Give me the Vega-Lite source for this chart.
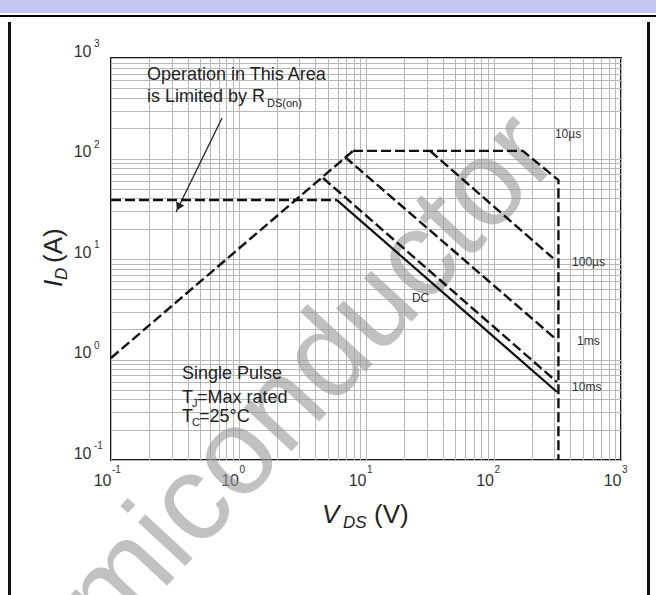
{
  "$schema": "https://vega.github.io/schema/vega-lite/v6.json",
  "padding": 0,
  "background": "white",
  "spacing": 0,
  "config": {"view": {"stroke": null}, "font": "Liberation Sans"},
  "datasets": {
    "curves": [
      {"s": "RDS", "o": 0, "v": 0.1, "i": 1.035},
      {"s": "RDS", "o": 1, "v": 7.91, "i": 119},
      {"s": "10µs", "o": 0, "v": 7.91, "i": 119},
      {"s": "10µs", "o": 1, "v": 170, "i": 119},
      {"s": "10µs", "o": 2, "v": 323, "i": 61},
      {"s": "10µs", "o": 3, "v": 323, "i": 0.1},
      {"s": "100µs", "o": 0, "v": 31.8, "i": 119},
      {"s": "100µs", "o": 1, "v": 293, "i": 10.2},
      {"s": "1ms", "o": 0, "v": 6.84, "i": 103.5},
      {"s": "1ms", "o": 1, "v": 315, "i": 1.56},
      {"s": "10ms", "o": 0, "v": 4.6, "i": 64},
      {"s": "10ms", "o": 1, "v": 315, "i": 0.597},
      {"s": "IDM", "o": 0, "v": 0.1, "i": 38.6},
      {"s": "IDM", "o": 1, "v": 5.92, "i": 38.6},
      {"s": "DC", "o": 0, "v": 5.92, "i": 38.6},
      {"s": "DC", "o": 1, "v": 315, "i": 0.475}
    ],
    "xexp": [
      {"v": 0.1, "i": 0.1, "t": "-1"},
      {"v": 1, "i": 0.1, "t": "0"},
      {"v": 10, "i": 0.1, "t": "1"},
      {"v": 100, "i": 0.1, "t": "2"},
      {"v": 1000, "i": 0.1, "t": "3"}
    ],
    "yexp": [
      {"v": 0.1, "i": 0.1, "t": "-1"},
      {"v": 0.1, "i": 1, "t": "0"},
      {"v": 0.1, "i": 10, "t": "1"},
      {"v": 0.1, "i": 100, "t": "2"},
      {"v": 0.1, "i": 1000, "t": "3"}
    ]
  },
  "vconcat": [
    {
      "width": 656, "height": 13,
      "view": {"fill": "#c7c6f2", "stroke": null},
      "data": {"values": [{}]},
      "mark": {"type": "point", "opacity": 0}
    },
    {
      "width": 656, "height": 2,
      "view": {"fill": "#000000", "stroke": null},
      "data": {"values": [{}]},
      "mark": {"type": "point", "opacity": 0}
    },
    {
      "spacing": 0,
      "hconcat": [
        {"width": 6, "height": 1, "view": {"fill": "white", "stroke": null}, "data": {"values": [{}]}, "mark": {"type": "point", "opacity": 0}},
        {"width": 3, "height": 580, "view": {"fill": "#111111", "stroke": null}, "data": {"values": [{}]}, "mark": {"type": "point", "opacity": 0}},
        {"width": 24, "height": 1, "view": {"fill": "white", "stroke": null}, "data": {"values": [{}]}, "mark": {"type": "point", "opacity": 0}},
        {
          "spacing": 0,
          "vconcat": [
            {"width": 1, "height": 16, "view": {"fill": "white", "stroke": null}, "data": {"values": [{}]}, "mark": {"type": "point", "opacity": 0}},
            {
              "width": 510, "height": 402,
              "view": {"stroke": "#1a1a1a", "strokeWidth": 2},
              "encoding": {
                "x": {
                  "field": "v", "type": "quantitative",
                  "scale": {"type": "log", "domain": [0.1, 1000], "nice": false},
                  "axis": {
                    "title": null,
                    "values": [0.1, 0.2, 0.3, 0.4, 0.5, 0.6, 0.7, 0.8, 0.9, 1, 2, 3, 4, 5, 6, 7, 8, 9, 10, 20, 30, 40, 50, 60, 70, 80, 90, 100, 200, 300, 400, 500, 600, 700, 800, 900, 1000],
                    "labelExpr": "datum.value === 0.1 || datum.value === 1 || datum.value === 10 || datum.value === 100 || datum.value === 1000 ? '10' : ''",
                    "grid": true, "gridColor": "#b8b8b8", "gridWidth": 1,
                    "ticks": false, "domain": false,
                    "labelFlush": false, "labelOverlap": false,
                    "labelFont": "Liberation Sans", "labelFontSize": 16, "labelColor": "#333333",
                    "labelAlign": "right", "labelDx": -1, "labelPadding": 12
                  }
                },
                "y": {
                  "field": "i", "type": "quantitative",
                  "scale": {"type": "log", "domain": [0.1, 1000], "nice": false},
                  "axis": {
                    "title": null,
                    "values": [0.1, 0.2, 0.3, 0.4, 0.5, 0.6, 0.7, 0.8, 0.9, 1, 2, 3, 4, 5, 6, 7, 8, 9, 10, 20, 30, 40, 50, 60, 70, 80, 90, 100, 200, 300, 400, 500, 600, 700, 800, 900, 1000],
                    "labelExpr": "datum.value === 0.1 || datum.value === 1 || datum.value === 10 || datum.value === 100 || datum.value === 1000 ? '10' : ''",
                    "grid": true, "gridColor": "#b8b8b8", "gridWidth": 1,
                    "ticks": false, "domain": false,
                    "labelFlush": false, "labelOverlap": false,
                    "labelFont": "Liberation Sans", "labelFontSize": 16, "labelColor": "#333333",
                    "labelPadding": 20, "labelOffset": -7
                  }
                }
              },
              "layer": [
                {
                  "data": {"values": [{"v": 5.87, "i": 0.3715, "t": "miconductor"}]},
                  "mark": {"type": "text", "align": "center", "baseline": "alphabetic", "angle": -47.2, "fontSize": 122, "color": "#999999", "opacity": 0.6, "font": "Liberation Sans"},
                  "encoding": {"text": {"field": "t"}}
                },
                {
                  "data": {"name": "curves"},
                  "transform": [{"filter": "datum.s !== 'DC'"}],
                  "mark": {"type": "line", "strokeDash": [10, 4], "strokeWidth": 2.4, "color": "#111111"},
                  "encoding": {"detail": {"field": "s"}, "order": {"field": "o", "type": "quantitative"}}
                },
                {
                  "data": {"name": "curves"},
                  "transform": [{"filter": "datum.s === 'DC'"}],
                  "mark": {"type": "line", "strokeWidth": 2.2, "color": "#111111"},
                  "encoding": {"order": {"field": "o", "type": "quantitative"}}
                },
                {
                  "data": {"name": "xexp"},
                  "mark": {"type": "text", "align": "left", "baseline": "middle", "dx": 1, "dy": 10, "fontSize": 10, "color": "#333333", "font": "Liberation Sans"},
                  "encoding": {"text": {"field": "t"}}
                },
                {
                  "data": {"name": "yexp"},
                  "mark": {"type": "text", "align": "left", "baseline": "middle", "dx": -17, "dy": -14, "fontSize": 10, "color": "#333333", "font": "Liberation Sans"},
                  "encoding": {"text": {"field": "t"}}
                },
                {
                  "data": {"values": [
                    {"v": 303, "i": 175, "t": "10µs"},
                    {"v": 413, "i": 9.33, "t": "100µs"},
                    {"v": 452, "i": 1.53, "t": "1ms"},
                    {"v": 413, "i": 0.532, "t": "10ms"},
                    {"v": 22.9, "i": 4.09, "t": "DC"}
                  ]},
                  "mark": {"type": "text", "align": "left", "baseline": "middle", "fontSize": 12, "color": "#333333", "font": "Liberation Sans"},
                  "encoding": {"text": {"field": "t"}}
                },
                {
                  "data": {"values": [
                    {"v": 0.1914, "i": 604, "t": "Operation in This Area"},
                    {"v": 0.1914, "i": 365, "t": "is Limited by R"},
                    {"v": 0.3605, "i": 0.64, "t": "Single Pulse"},
                    {"v": 0.3605, "i": 0.369, "t": "T"},
                    {"v": 0.4725, "i": 0.369, "t": "=Max rated"},
                    {"v": 0.3605, "i": 0.239, "t": "T"},
                    {"v": 0.49, "i": 0.239, "t": "=25°C"}
                  ]},
                  "mark": {"type": "text", "align": "left", "baseline": "alphabetic", "fontSize": 18, "color": "#222222", "font": "Liberation Sans"},
                  "encoding": {"text": {"field": "t"}}
                },
                {
                  "data": {"values": [
                    {"v": 1.673, "i": 325, "t": "DS(on)"},
                    {"v": 0.4317, "i": 0.336, "t": "J"},
                    {"v": 0.4317, "i": 0.218, "t": "C"}
                  ]},
                  "mark": {"type": "text", "align": "left", "baseline": "alphabetic", "fontSize": 11, "color": "#222222", "font": "Liberation Sans"},
                  "encoding": {"text": {"field": "t"}}
                },
                {
                  "data": {"values": [{"v": 0.743, "i": 253, "v2": 0.324, "i2": 29.4}]},
                  "mark": {"type": "rule", "strokeWidth": 1.3, "color": "#222222"},
                  "encoding": {"x2": {"field": "v2"}, "y2": {"field": "i2"}}
                },
                {
                  "data": {"values": [{"v": 0.3384, "i": 32.9}]},
                  "mark": {"type": "point", "shape": "triangle-up", "angle": 206, "size": 80, "filled": true, "color": "#222222", "opacity": 1},
                  "encoding": {}
                },
                {
                  "data": {"values": [{"v": 4.52, "i": 0.0236, "t": "V"}]},
                  "mark": {"type": "text", "align": "left", "baseline": "alphabetic", "fontSize": 26, "fontStyle": "italic", "color": "#222222", "font": "Liberation Sans"},
                  "encoding": {"text": {"field": "t"}}
                },
                {
                  "data": {"values": [{"v": 6.61, "i": 0.02104, "t": "DS"}]},
                  "mark": {"type": "text", "align": "left", "baseline": "alphabetic", "fontSize": 17, "fontStyle": "italic", "color": "#222222", "font": "Liberation Sans"},
                  "encoding": {"text": {"field": "t"}}
                },
                {
                  "data": {"values": [{"v": 11.56, "i": 0.0236, "t": "(V)"}]},
                  "mark": {"type": "text", "align": "left", "baseline": "alphabetic", "fontSize": 26, "color": "#222222", "font": "Liberation Sans"},
                  "encoding": {"text": {"field": "t"}}
                },
                {
                  "data": {"values": [{"v": 0.0413, "i": 5.26, "t": "I"}]},
                  "mark": {"type": "text", "align": "left", "baseline": "alphabetic", "angle": 270, "fontSize": 26, "fontStyle": "italic", "color": "#222222", "font": "Liberation Sans"},
                  "encoding": {"text": {"field": "t"}}
                },
                {
                  "data": {"values": [{"v": 0.0452, "i": 6.18, "t": "D"}]},
                  "mark": {"type": "text", "align": "left", "baseline": "alphabetic", "angle": 270, "fontSize": 17, "fontStyle": "italic", "color": "#222222", "font": "Liberation Sans"},
                  "encoding": {"text": {"field": "t"}}
                },
                {
                  "data": {"values": [{"v": 0.0413, "i": 9.12, "t": "(A)"}]},
                  "mark": {"type": "text", "align": "left", "baseline": "alphabetic", "angle": 270, "fontSize": 26, "color": "#222222", "font": "Liberation Sans"},
                  "encoding": {"text": {"field": "t"}}
                }
              ]
            }
          ]
        },
        {"width": 16, "height": 1, "view": {"fill": "white", "stroke": null}, "data": {"values": [{}]}, "mark": {"type": "point", "opacity": 0}},
        {"width": 3, "height": 580, "view": {"fill": "#111111", "stroke": null}, "data": {"values": [{}]}, "mark": {"type": "point", "opacity": 0}}
      ]
    }
  ]
}
